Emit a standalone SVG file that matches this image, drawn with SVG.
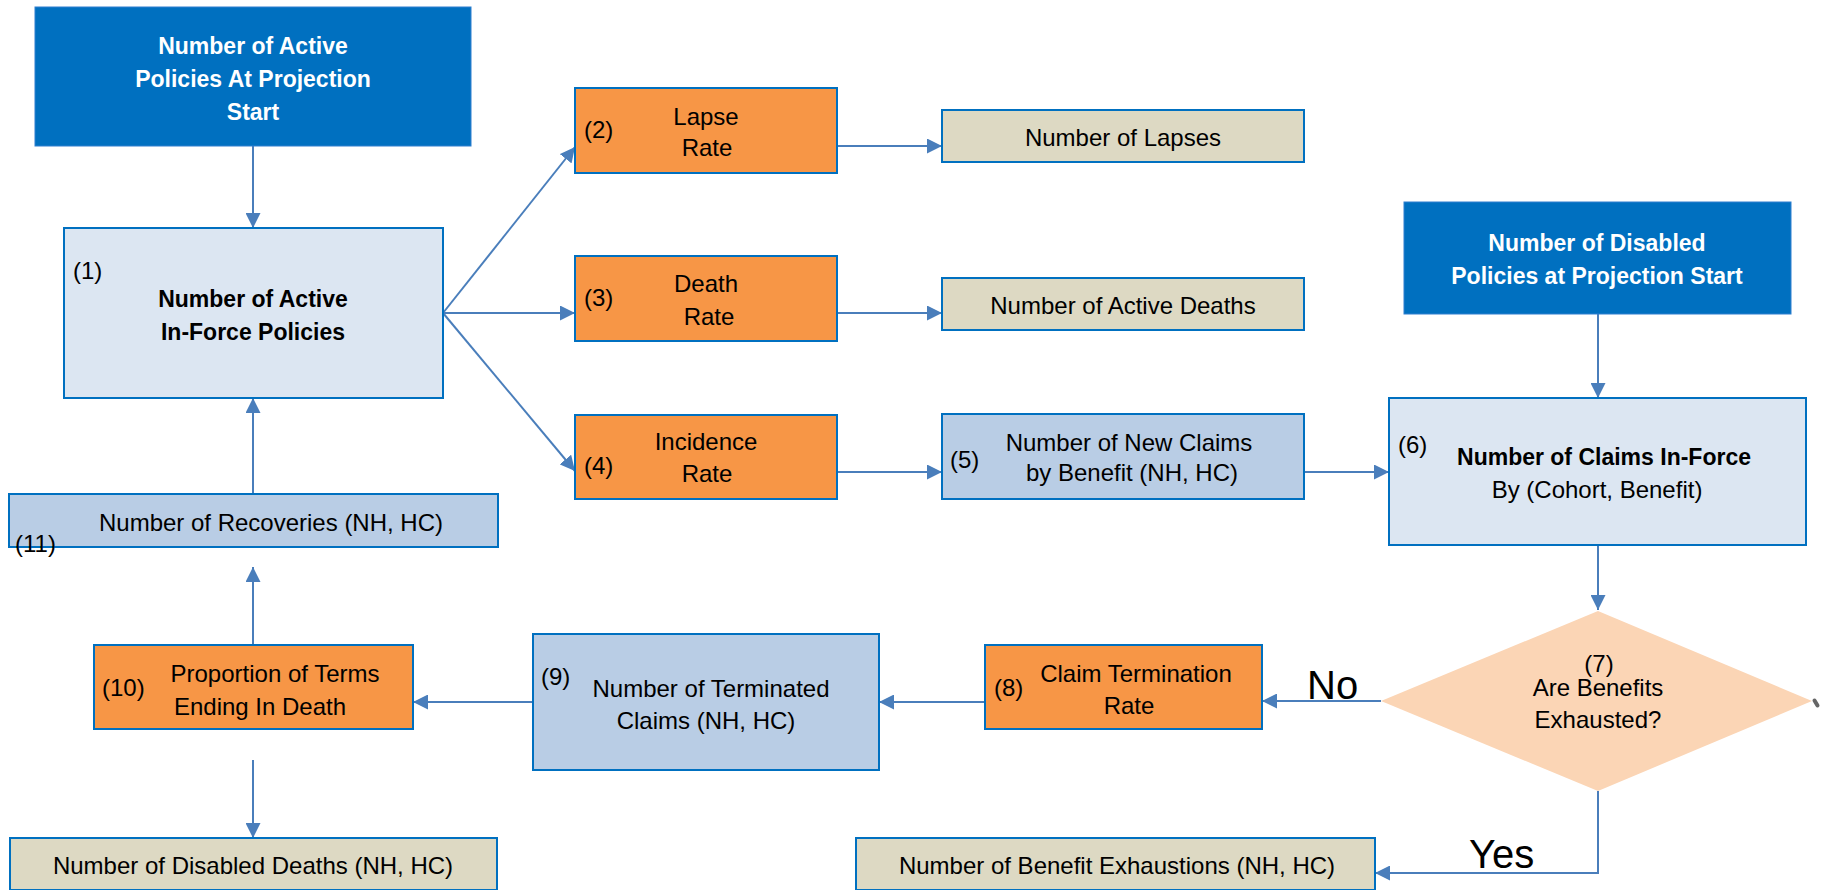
<svg xmlns="http://www.w3.org/2000/svg" width="1822" height="890" viewBox="0 0 1822 890">
<style>
text{font-family:"Liberation Sans",Arial,sans-serif;font-size:24px;fill:#000}
.c{text-anchor:middle}
.b{font-weight:bold;font-size:23px}
.w{fill:#fff}
.big{font-size:40px}
.hdr{fill:#0070c0;stroke:#2e7fcf;stroke-width:1}
.lb{fill:#dce6f2;stroke:#0070c0;stroke-width:2}
.mb{fill:#b9cde5;stroke:#0070c0;stroke-width:2}
.or{fill:#f79646;stroke:#0070c0;stroke-width:2}
.tn{fill:#ddd9c3;stroke:#0070c0;stroke-width:2}
.cn{fill:none;stroke:#4a7ebb;stroke-width:2}
</style>
<defs>
<marker id="ah" markerWidth="15" markerHeight="15" refX="15" refY="7.5" orient="auto" markerUnits="userSpaceOnUse">
<path d="M0,0 L15,7.5 L0,15 z" fill="#4a7ebb"/>
</marker>
</defs>

<g id="connectors">
<line class="cn" x1="253" y1="146" x2="253" y2="228" marker-end="url(#ah)"/>
<line class="cn" x1="443" y1="313" x2="575" y2="147" marker-end="url(#ah)"/>
<line class="cn" x1="443" y1="313" x2="575" y2="313" marker-end="url(#ah)"/>
<line class="cn" x1="443" y1="313" x2="575" y2="471" marker-end="url(#ah)"/>
<line class="cn" x1="837" y1="146" x2="942" y2="146" marker-end="url(#ah)"/>
<line class="cn" x1="837" y1="313" x2="942" y2="313" marker-end="url(#ah)"/>
<line class="cn" x1="837" y1="472" x2="942" y2="472" marker-end="url(#ah)"/>
<line class="cn" x1="1304" y1="472" x2="1389" y2="472" marker-end="url(#ah)"/>
<line class="cn" x1="1598" y1="314" x2="1598" y2="398" marker-end="url(#ah)"/>
<line class="cn" x1="1598" y1="545" x2="1598" y2="610" marker-end="url(#ah)"/>
<line class="cn" x1="1381" y1="701" x2="1262" y2="701" marker-end="url(#ah)"/>
<polyline class="cn" points="1598,791 1598,873 1375,873" marker-end="url(#ah)"/>
<line class="cn" x1="985" y1="702" x2="879" y2="702" marker-end="url(#ah)"/>
<line class="cn" x1="533" y1="702" x2="413" y2="702" marker-end="url(#ah)"/>
<line class="cn" x1="253" y1="645" x2="253" y2="567" marker-end="url(#ah)"/>
<line class="cn" x1="253" y1="494" x2="253" y2="398" marker-end="url(#ah)"/>
<line class="cn" x1="253" y1="760" x2="253" y2="838" marker-end="url(#ah)"/>
<line x1="1814.5" y1="700.5" x2="1817.5" y2="705.5" stroke="#666" stroke-width="4" stroke-linecap="round"/>
</g>

<g id="n-active-start">
<rect class="hdr" x="35" y="7" width="436" height="139"/>
<text class="c b w" x="253" y="54">Number of Active</text>
<text class="c b w" x="253" y="87">Policies At Projection</text>
<text class="c b w" x="253" y="120">Start</text>
</g>

<g id="n1">
<rect class="lb" x="64" y="228" width="379" height="170"/>
<text x="73" y="279">(1)</text>
<text class="c b" x="253" y="307">Number of Active</text>
<text class="c b" x="253" y="340">In-Force Policies</text>
</g>

<g id="n2">
<rect class="or" x="575" y="88" width="262" height="85"/>
<text x="584" y="138">(2)</text>
<text class="c" x="706" y="125">Lapse</text>
<text class="c" x="707" y="156">Rate</text>
</g>

<g id="n-lapses">
<rect class="tn" x="942" y="110" width="362" height="52"/>
<text class="c" x="1123" y="146">Number of Lapses</text>
</g>

<g id="n3">
<rect class="or" x="575" y="256" width="262" height="85"/>
<text x="584" y="306">(3)</text>
<text class="c" x="706" y="292">Death</text>
<text class="c" x="709" y="325">Rate</text>
</g>

<g id="n-active-deaths">
<rect class="tn" x="942" y="278" width="362" height="52"/>
<text class="c" x="1123" y="314">Number of Active Deaths</text>
</g>

<g id="n4">
<rect class="or" x="575" y="415" width="262" height="84"/>
<text x="584" y="474">(4)</text>
<text class="c" x="706" y="450">Incidence</text>
<text class="c" x="707" y="482">Rate</text>
</g>

<g id="n5">
<rect class="mb" x="942" y="414" width="362" height="85"/>
<text x="950" y="468">(5)</text>
<text class="c" x="1129" y="451">Number of New Claims</text>
<text class="c" x="1132" y="481">by Benefit (NH, HC)</text>
</g>

<g id="n-disabled-start">
<rect class="hdr" x="1404" y="202" width="387" height="112"/>
<text class="c b w" x="1597" y="251">Number of Disabled</text>
<text class="c b w" x="1597" y="284">Policies at Projection Start</text>
</g>

<g id="n6">
<rect class="lb" x="1389" y="398" width="417" height="147"/>
<text x="1398" y="453">(6)</text>
<text class="c b" x="1604" y="465">Number of Claims In-Force</text>
<text class="c" x="1597" y="498">By (Cohort, Benefit)</text>
</g>

<g id="n7">
<polygon points="1598,611 1812,701 1598,791 1381,701" fill="#fbd5b5"/>
<text class="c" x="1599" y="672">(7)</text>
<text class="c" x="1598" y="696">Are Benefits</text>
<text class="c" x="1598" y="728">Exhausted?</text>
</g>

<g id="n8">
<rect class="or" x="985" y="645" width="277" height="84"/>
<text x="994" y="696">(8)</text>
<text class="c" x="1136" y="682">Claim Termination</text>
<text class="c" x="1129" y="714">Rate</text>
</g>

<g id="n9">
<rect class="mb" x="533" y="634" width="346" height="136"/>
<text x="541" y="685">(9)</text>
<text class="c" x="711" y="697">Number of Terminated</text>
<text class="c" x="706" y="729">Claims (NH, HC)</text>
</g>

<g id="n10">
<rect class="or" x="94" y="645" width="319" height="84"/>
<text x="102" y="696">(10)</text>
<text class="c" x="275" y="682">Proportion of Terms</text>
<text class="c" x="260" y="715">Ending In Death</text>
</g>

<g id="n11">
<rect class="mb" x="9" y="494" width="489" height="53"/>
<text class="c" x="271" y="531">Number of Recoveries (NH, HC)</text>
<text x="15" y="552">(11)</text>
</g>

<g id="n-disabled-deaths">
<rect class="tn" x="10" y="838" width="487" height="52"/>
<text class="c" x="253" y="874">Number of Disabled Deaths (NH, HC)</text>
</g>

<g id="n-exhaustions">
<rect class="tn" x="856" y="838" width="519" height="52"/>
<text class="c" x="1117" y="874">Number of Benefit Exhaustions (NH, HC)</text>
</g>

<g id="labels">
<text class="big" x="1307" y="699">No</text>
<text class="big" x="1469" y="868">Yes</text>
</g>
</svg>
